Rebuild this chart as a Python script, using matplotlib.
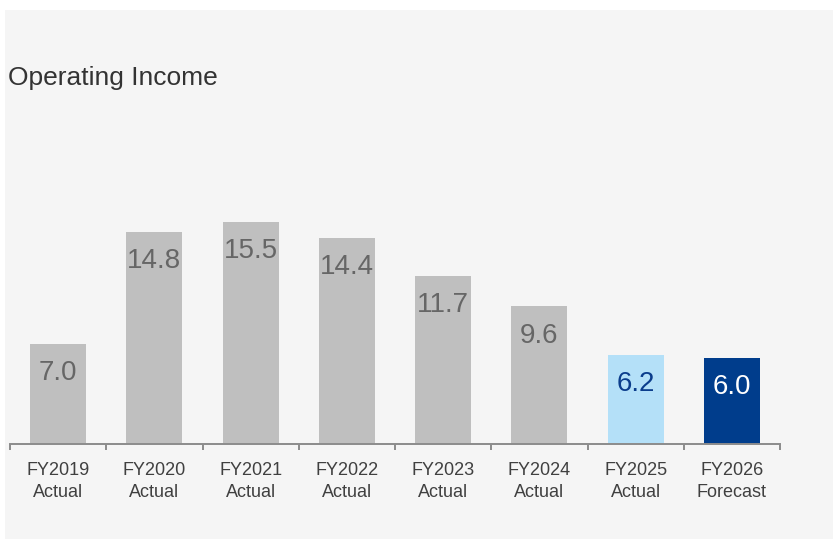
import matplotlib
matplotlib.use("Agg")
import matplotlib.pyplot as plt
from matplotlib.patches import Rectangle

plt.rcParams['font.family'] = ['Liberation Sans', 'DejaVu Sans']

years = ["FY2019", "FY2020", "FY2021", "FY2022", "FY2023", "FY2024", "FY2025", "FY2026"]
kinds = ["Actual", "Actual", "Actual", "Actual", "Actual", "Actual", "Actual", "Forecast"]
income = [7.0, 14.8, 15.5, 14.4, 11.7, 9.6, 6.2, 6.0]

bar_colors = ["#bfbfbf"] * 6 + ["#b4e0f8", "#003d8c"]
text_colors = ["#666666"] * 6 + ["#0b3d8c", "#ffffff"]

W, H = 833, 539
fig = plt.figure(figsize=(W / 100, H / 100), dpi=100)
fig.patch.set_facecolor("white")
fig.patches.append(Rectangle((5 / W, 0), 1 - 5 / W, 1 - 10 / H, transform=fig.transFigure,
                             facecolor="#f5f5f5", edgecolor="none", zorder=-10))

fig.text(8 / W, 1 - 78 / H, "Operating Income", fontsize=19, color="#333333", va="center", ha="left")

ax = fig.add_axes([10 / W, 1 - 444 / H, 770 / W, (444 - 130) / H])
ax.set_facecolor("none")

x = list(range(len(years)))
ax.bar(x, income, width=0.58, color=bar_colors, zorder=2)

for xi, v, c in zip(x, income, text_colors):
    ax.annotate(f"{v:.1f}", (xi, v), xytext=(0, -21), textcoords="offset points",
                ha="center", va="center", fontsize=20, color=c)

ax.set_xlim(-0.5, len(years) - 0.5)
ax.set_ylim(0, 21.9)

ax.set_xticks(x)
ax.set_xticklabels([f"{y}\n{k}" for y, k in zip(years, kinds)], fontsize=13, color="#404040",
                   linespacing=1.35)
ax.tick_params(axis="x", which="major", length=0, pad=13)
ax.set_xticks([i - 0.5 for i in range(len(years) + 1)], minor=True)
ax.tick_params(axis="x", which="minor", length=4, width=1.4, color="#8c8c8c", direction="out")
ax.set_yticks([])

for s in ["top", "left", "right"]:
    ax.spines[s].set_visible(False)
ax.spines["bottom"].set_color("#8c8c8c")
ax.spines["bottom"].set_linewidth(1.4)

fig.savefig("out.png", dpi=100)
